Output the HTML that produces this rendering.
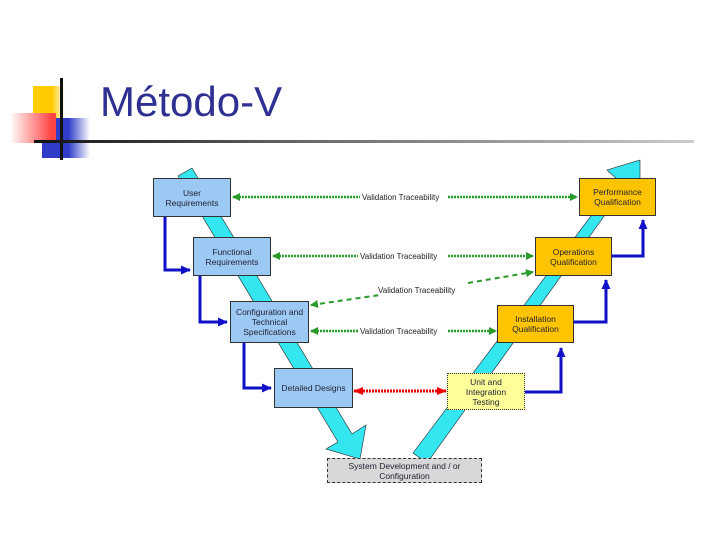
<!DOCTYPE html>
<html><head><meta charset="utf-8"><style>
body{margin:0;width:720px;height:540px;background:#fff;position:relative;overflow:hidden;font-family:"Liberation Sans",sans-serif}
.t{position:absolute;left:100px;top:78px;font-size:42px;color:#2e3192}
.b{position:absolute;box-sizing:border-box;display:flex;align-items:center;justify-content:center;text-align:center;font-size:8.5px;line-height:10px;color:#223;border:1px solid #333}
.bl{background:#9cc8f4}.or{background:#ffc400}.ly{background:#ffff99;border-style:dotted}
</style></head><body>
<div style="position:absolute;left:33px;top:86px;width:32px;height:32px;background:linear-gradient(90deg,#ffcc00 60%,#fff)"></div>
<div style="position:absolute;left:42px;top:118px;width:48px;height:40px;background:linear-gradient(90deg,#2f3cc8 55%,#fff)"></div>
<div style="position:absolute;left:10px;top:113px;width:46px;height:30px;background:linear-gradient(90deg,#fff,#f44 90%)"></div>
<div style="position:absolute;left:60px;top:78px;width:3px;height:82px;background:#111"></div>
<div style="position:absolute;left:34px;top:140px;width:660px;height:3px;background:linear-gradient(90deg,#111,#666 40%,#ccc)"></div>
<div class="t">Método-V</div>
<svg style="position:absolute;left:0;top:0" width="720" height="540">
<defs>
<marker id="g" markerWidth="8" markerHeight="8" refX="7" refY="4" orient="auto-start-reverse" markerUnits="userSpaceOnUse"><path d="M0,0L8,4L0,8z" fill="#2a9a2a"/></marker>
<marker id="r" markerWidth="10" markerHeight="8" refX="9" refY="4" orient="auto-start-reverse" markerUnits="userSpaceOnUse"><path d="M0,0L10,4L0,8z" fill="#e00"/></marker>
<marker id="u" markerWidth="10" markerHeight="9" refX="9" refY="4.5" orient="auto" markerUnits="userSpaceOnUse"><path d="M0,0L10,4.5L0,9z" fill="#1010c8"/></marker>
</defs>
<polygon points="178,176 192,168 352,434 366,425 360,459 326,449 338,442" fill="#33e6f0" stroke="#222" stroke-width="0.6"/>
<polygon points="413,453 427,463 625,187 640,196 640,160 607,170 618,180" fill="#33e6f0" stroke="#222" stroke-width="0.6"/>
<g fill="none" stroke="#1010c8" stroke-width="3">
<path d="M165,217V270H190" marker-end="url(#u)"/>
<path d="M200,276V322H227" marker-end="url(#u)"/>
<path d="M244,343V388H271" marker-end="url(#u)"/>
<path d="M525,392H561V348" marker-end="url(#u)"/>
<path d="M574,322H606V280" marker-end="url(#u)"/>
<path d="M612,256H643V220" marker-end="url(#u)"/>
</g>
<g stroke="#2a9a2a" stroke-width="2.5" fill="none" stroke-dasharray="2 1">
<path d="M233,197H360" marker-start="url(#g)"/>
<path d="M448,197H577" marker-end="url(#g)"/>
<path d="M273,256H358" marker-start="url(#g)"/><path d="M448,256H533" marker-end="url(#g)"/>
<path d="M311,331H358" marker-start="url(#g)"/><path d="M448,331H496" marker-end="url(#g)"/>
</g>
<g stroke="#2a9a2a" stroke-width="2" fill="none" stroke-dasharray="5 4">
<path d="M311,305L380,295" marker-start="url(#g)"/><path d="M468,283L533,272" marker-end="url(#g)"/>
</g>
<path d="M354,391H446" stroke="#e00" stroke-width="3" stroke-dasharray="2 1" marker-start="url(#r)" marker-end="url(#r)"/>
<g font-size="8" fill="#222" font-family="Liberation Sans,sans-serif">
<text x="362" y="200">Validation Traceability</text>
<text x="360" y="259">Validation Traceability</text>
<text x="378" y="293">Validation Traceability</text>
<text x="360" y="334">Validation Traceability</text>
</g>
</svg>
<div class="b bl" style="left:153px;top:178px;width:78px;height:39px">User<br>Requirements</div>
<div class="b bl" style="left:193px;top:237px;width:78px;height:39px">Functional<br>Requirements</div>
<div class="b bl" style="left:230px;top:301px;width:79px;height:42px">Configuration and<br>Technical<br>Specifications</div>
<div class="b bl" style="left:274px;top:368px;width:79px;height:40px">Detailed Designs</div>
<div class="b" style="left:327px;top:458px;width:155px;height:25px;background:#d8d8d8;border-style:dashed">System Development and / or<br>Configuration</div>
<div class="b ly" style="left:447px;top:373px;width:78px;height:37px">Unit and<br>Integration<br>Testing</div>
<div class="b or" style="left:497px;top:305px;width:77px;height:38px">Installation<br>Qualification</div>
<div class="b or" style="left:535px;top:237px;width:77px;height:39px">Operations<br>Qualification</div>
<div class="b or" style="left:579px;top:178px;width:77px;height:38px">Performance<br>Qualification</div>
</body></html>
